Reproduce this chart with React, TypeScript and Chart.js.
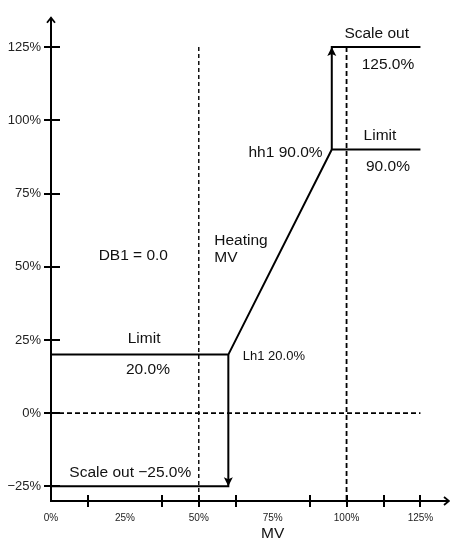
import React, { useEffect, useRef } from "react";
import { Chart, registerables } from "chart.js";

Chart.register(...registerables);

// ---- Axis ranges and ticks ----
const xRange = [0, 135];
const yRange = [-30, 135];
const xTickValues = [0, 25, 50, 75, 100, 125];
const xTickLabels = ["0%", "25%", "50%", "75%", "100%", "125%"];
const xTickMarks = [12.5, 37.5, 50, 62.5, 87.5, 100, 112.5, 125];
const yTickValues = [-25, 0, 25, 50, 75, 100, 125];
const yTickLabels = ["\u221225%", "0%", "25%", "50%", "75%", "100%", "125%"];

// ---- Series (x = MV input %, y = output %) ----
const outputCurve = [
  { x: 0, y: 20 },
  { x: 60, y: 20 },
  { x: 95, y: 90 },
  { x: 125, y: 90 },
];
const scaleOutHigh = [
  { x: 95, y: 90 },
  { x: 95, y: 125 },
  { x: 125, y: 125 },
];
const scaleOutLow = [
  { x: 60, y: 20 },
  { x: 60, y: -25 },
  { x: 0, y: -25 },
];
const zeroLine = [
  { x: 0, y: 0 },
  { x: 125, y: 0 },
];
const db1Line = [
  { x: 50, y: 125 },
  { x: 50, y: -30 },
];
const fullLine = [
  { x: 100, y: 125 },
  { x: 100, y: -30 },
];
const arrowTips = [
  { x: 95, y: 125, dir: -1 },
  { x: 60, y: -25, dir: 1 },
];

// ---- Annotation texts (anchored in data units) ----
const annotationTexts = ["Scale out", "125.0%", "Limit", "90.0%", "hh1 90.0%", "Heating", "MV", "DB1 = 0.0", "Limit", "20.0%", "Lh1 20.0%", "Scale out \u221225.0%", "MV"];
const annotationX = [110.2, 114, 111.3, 114, 91.9, 55.25, 55.25, 27.85, 31.5, 32.8, 64.9, 6.2, 75];
const annotationY = [130.0, 119.4, 95.0, 84.6, 89.4, 59.4, 53.5, 54.1, 25.8, 15.15, 19.8, -19.8, -40.9];
const annotationAlign = ["center", "center", "center", "center", "right", "left", "left", "center", "center", "center", "left", "left", "center"];
const annotationSize = [15.5, 15.5, 15.5, 15.5, 15.5, 15.5, 15.5, 15.5, 15.5, 15.5, 13, 15.5, 15.5];

const FONT = "'Liberation Sans', Arial, sans-serif";

const decorPlugin = {
  id: "decor",
  afterDraw(chart: any) {
    const { ctx } = chart;
    const xs = chart.scales.x;
    const ys = chart.scales.y;
    const x0 = xs.getPixelForValue(xRange[0]);
    const xr = xs.getPixelForValue(xRange[1]);
    const y0 = ys.getPixelForValue(yRange[0]);
    const yt = ys.getPixelForValue(yRange[1]);
    ctx.save();
    ctx.strokeStyle = "#000";
    ctx.fillStyle = "#000";
    ctx.lineWidth = 2;
    ctx.setLineDash([]);
    // axes
    ctx.beginPath();
    ctx.moveTo(x0, y0 + 1);
    ctx.lineTo(x0, yt);
    ctx.moveTo(x0 - 1, y0);
    ctx.lineTo(xr - 1, y0);
    ctx.stroke();
    // axis arrows (open)
    ctx.lineWidth = 1.8;
    ctx.beginPath();
    ctx.moveTo(x0 - 4, yt + 5);
    ctx.lineTo(x0, yt);
    ctx.lineTo(x0 + 4, yt + 5);
    ctx.moveTo(xr - 6, y0 - 4);
    ctx.lineTo(xr - 1, y0);
    ctx.lineTo(xr - 6, y0 + 4);
    ctx.stroke();
    // tick marks
    ctx.lineWidth = 2;
    ctx.beginPath();
    for (const v of yTickValues) {
      const py = Math.round(ys.getPixelForValue(v));
      ctx.moveTo(x0 - 7, py);
      ctx.lineTo(x0 + 9, py);
    }
    for (const v of xTickMarks) {
      const px = Math.round(xs.getPixelForValue(v));
      ctx.moveTo(px, y0 - 6);
      ctx.lineTo(px, y0 + 6);
    }
    ctx.stroke();
    // filled arrow heads
    for (const a of arrowTips) {
      const px = xs.getPixelForValue(a.x);
      const py = ys.getPixelForValue(a.y);
      const len = 9;
      const hw = 4.5;
      ctx.beginPath();
      ctx.moveTo(px, py);
      ctx.lineTo(px - hw, py - a.dir * len);
      ctx.lineTo(px, py - a.dir * (len - 2));
      ctx.lineTo(px + hw, py - a.dir * len);
      ctx.closePath();
      ctx.fill();
    }
    // annotation texts
    ctx.fillStyle = "#111";
    ctx.textBaseline = "alphabetic";
    annotationTexts.forEach((t, i) => {
      const size = annotationSize[i];
      ctx.font = `${size}px ${FONT}`;
      ctx.textAlign = annotationAlign[i] as CanvasTextAlign;
      const px = xs.getPixelForValue(annotationX[i]);
      const py = ys.getPixelForValue(annotationY[i]) + 0.358 * size;
      ctx.fillText(t, px, py);
    });
    ctx.restore();
  },
};

function line(data: any[], dash: number[] = [], width = 2) {
  return {
    data,
    showLine: true,
    borderColor: "#000",
    backgroundColor: "#000",
    borderWidth: width,
    borderDash: dash,
    pointRadius: 0,
    pointHoverRadius: 0,
    tension: 0,
    fill: false,
    clip: false as any,
  };
}

export default function App() {
  const ref = useRef<HTMLCanvasElement | null>(null);
  useEffect(() => {
    if (!ref.current) return;
    const chart = new Chart(ref.current, {
      type: "scatter",
      data: {
        datasets: [
          line(outputCurve),
          line(scaleOutHigh),
          line(scaleOutLow),
          line(zeroLine, [5, 3], 1.8),
          line(db1Line, [4, 3], 1.4),
          line(fullLine, [5, 3], 1.8),
        ] as any,
      },
      options: {
        animation: false,
        responsive: false,
        events: [],
        layout: { padding: { top: 15, right: 0, bottom: 0, left: 0 } },
        plugins: {
          legend: { display: false },
          tooltip: { enabled: false },
          title: { display: false },
        },
        scales: {
          x: {
            type: "linear",
            min: xRange[0],
            max: xRange[1],
            grid: { display: false, drawTicks: false },
            border: { display: false },
            afterBuildTicks: (s: any) => {
              s.ticks = xTickValues.map((v) => ({ value: v }));
            },
            afterFit: (s: any) => {
              s.height = 42;
            },
            ticks: {
              autoSkip: false,
              maxRotation: 0,
              padding: 11,
              color: "#222",
              font: { family: FONT, size: 10 },
              callback: (v: any) => {
                const i = xTickValues.indexOf(Number(v));
                return i >= 0 ? xTickLabels[i] : "";
              },
            },
          },
          y: {
            type: "linear",
            min: yRange[0],
            max: yRange[1],
            grid: { display: false, drawTicks: false },
            border: { display: false },
            afterBuildTicks: (s: any) => {
              s.ticks = yTickValues.map((v) => ({ value: v }));
            },
            afterFit: (s: any) => {
              s.width = 51;
            },
            ticks: {
              autoSkip: false,
              padding: 10,
              color: "#222",
              font: { family: FONT, size: 13 },
              callback: (v: any) => {
                const i = yTickValues.indexOf(Number(v));
                return i >= 0 ? yTickLabels[i] : "";
              },
            },
          },
        },
      },
      plugins: [decorPlugin],
    });
    return () => chart.destroy();
  }, []);
  return (
    <div style={{ position: "absolute", left: 0, top: 0, width: 450, height: 543, background: "#fff" }}>
      <canvas ref={ref} width={450} height={543} style={{ display: "block" }} />
    </div>
  );
}
